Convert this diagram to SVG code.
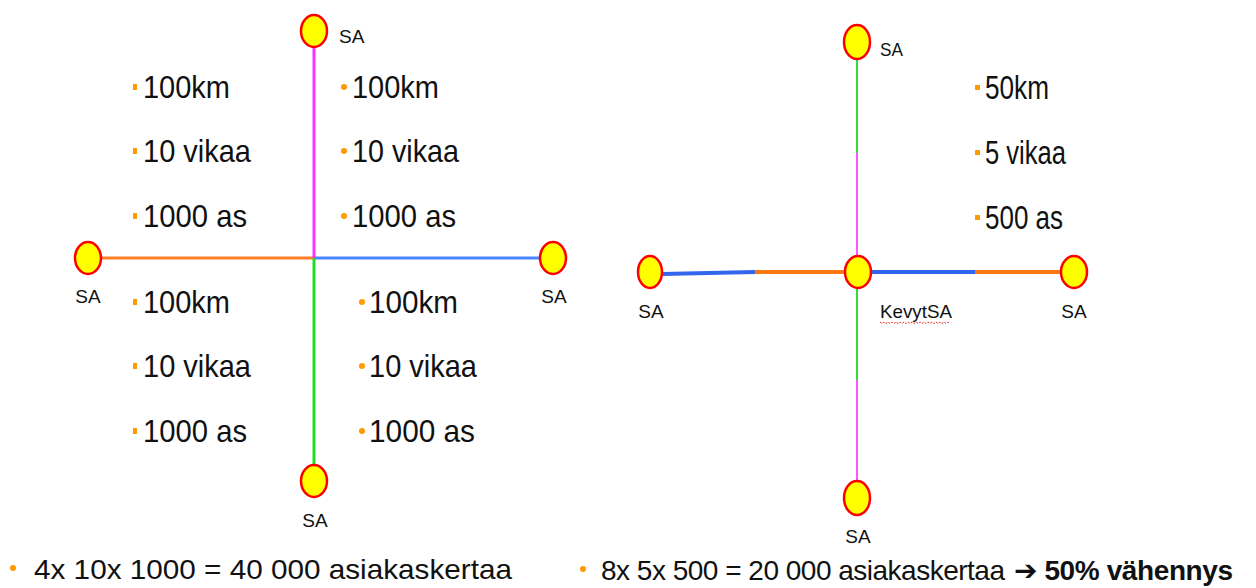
<svg xmlns="http://www.w3.org/2000/svg" width="1256" height="588" viewBox="0 0 1256 588">
<style>
.node{fill:#ffff00;stroke:#ff0000;stroke-width:2.5}
.lbl{font-family:"Liberation Sans",Arial,sans-serif;font-size:19px;fill:#111}
.big{font-family:"Liberation Sans",Arial,sans-serif;font-size:32px;fill:#111}
.nar{font-family:"Liberation Sans",Arial,sans-serif;font-size:33px;fill:#111}
.foot{font-family:"Liberation Sans","DejaVu Sans",Arial,sans-serif;font-size:28px;fill:#111}
.b{fill:#ff9900}
</style>
<rect width="1256" height="588" fill="#ffffff"/>
<g id="connectors" fill="none">
  <line x1="101" y1="258" x2="314" y2="258" stroke="#ff7f27" stroke-width="3"/>
  <line x1="314" y1="258" x2="540" y2="258" stroke="#4a86ff" stroke-width="3"/>
  <line x1="314" y1="47" x2="314" y2="258" stroke="#ff33ff" stroke-width="3"/>
  <line x1="314" y1="258" x2="314" y2="465" stroke="#22dd22" stroke-width="3"/>
  <line x1="662" y1="274" x2="755" y2="272" stroke="#3366ee" stroke-width="4"/>
  <line x1="755" y1="272" x2="845" y2="272" stroke="#ff7711" stroke-width="4"/>
  <line x1="870" y1="272" x2="975" y2="272" stroke="#3366ee" stroke-width="4"/>
  <line x1="975" y1="272" x2="1061" y2="272" stroke="#ff7711" stroke-width="4"/>
  <line x1="857" y1="59" x2="857" y2="153" stroke="#33dd33" stroke-width="2"/>
  <line x1="857" y1="153" x2="857" y2="256" stroke="#ff55ff" stroke-width="2"/>
  <line x1="857" y1="288" x2="857" y2="380" stroke="#33dd33" stroke-width="2"/>
  <line x1="857" y1="380" x2="857" y2="481" stroke="#ff55ff" stroke-width="2"/>
</g>
<g id="sa-top-left">
  <ellipse class="node" cx="314" cy="31" rx="13" ry="16"/>
  <text class="lbl" x="339" y="43">SA</text>
</g>
<g id="sa-left-left">
  <ellipse class="node" cx="88" cy="258" rx="13" ry="16"/>
  <text class="lbl" x="88" y="303" text-anchor="middle">SA</text>
</g>
<g id="sa-right-left">
  <ellipse class="node" cx="553" cy="258" rx="13" ry="16"/>
  <text class="lbl" x="554" y="303" text-anchor="middle">SA</text>
</g>
<g id="sa-bottom-left">
  <ellipse class="node" cx="314" cy="481" rx="13" ry="16"/>
  <text class="lbl" x="315" y="527" text-anchor="middle">SA</text>
</g>
<g id="sa-top-right">
  <ellipse class="node" cx="857" cy="42" rx="13" ry="17"/>
  <text class="lbl" x="880" y="56" textLength="23" lengthAdjust="spacingAndGlyphs">SA</text>
</g>
<g id="sa-left-right">
  <ellipse class="node" cx="650" cy="272" rx="12" ry="16"/>
  <text class="lbl" x="651" y="318" text-anchor="middle">SA</text>
</g>
<g id="kevytsa">
  <ellipse class="node" cx="858" cy="272" rx="13" ry="16"/>
  <text class="lbl" x="880" y="318" textLength="72" lengthAdjust="spacingAndGlyphs">KevytSA</text>
  <path d="M880 322 l2 1.5 l2 -1.5 l2 1.5 l2 -1.5 l2 1.5 l2 -1.5 l2 1.5 l2 -1.5 l2 1.5 l2 -1.5 l2 1.5 l2 -1.5 l2 1.5 l2 -1.5 l2 1.5 l2 -1.5 l2 1.5 l2 -1.5 l2 1.5 l2 -1.5 l2 1.5 l2 -1.5 l2 1.5 l2 -1.5 l2 1.5 l2 -1.5 l2 1.5 l2 -1.5 l2 1.5 l2 -1.5 l2 1.5 l2 -1.5 l2 1.5 l2 -1.5 l2 1.5" fill="none" stroke="#ee2222" stroke-width="1" stroke-dasharray="2 1.5"/>
</g>
<g id="sa-right-right">
  <ellipse class="node" cx="1074" cy="272" rx="13" ry="16"/>
  <text class="lbl" x="1074" y="318" text-anchor="middle">SA</text>
</g>
<g id="sa-bottom-right">
  <ellipse class="node" cx="857" cy="498" rx="13" ry="17"/>
  <text class="lbl" x="858" y="543" text-anchor="middle">SA</text>
</g>
<g id="stats-upper-left">
  <rect class="b" x="133" y="84" width="4" height="6"/>
  <rect class="b" x="133" y="148" width="4" height="6"/>
  <rect class="b" x="133" y="213" width="4" height="6"/>
  <text class="big" x="143" y="98" textLength="87" lengthAdjust="spacingAndGlyphs">100km</text>
  <text class="big" x="143" y="162" textLength="108" lengthAdjust="spacingAndGlyphs">10 vikaa</text>
  <text class="big" x="143" y="227" textLength="104" lengthAdjust="spacingAndGlyphs">1000 as</text>
</g>
<g id="stats-upper-right">
  <circle class="b" cx="344" cy="87" r="3"/>
  <circle class="b" cx="344" cy="151" r="3"/>
  <circle class="b" cx="344" cy="216" r="3"/>
  <text class="big" x="352" y="98" textLength="87" lengthAdjust="spacingAndGlyphs">100km</text>
  <text class="big" x="352" y="162" textLength="107" lengthAdjust="spacingAndGlyphs">10 vikaa</text>
  <text class="big" x="352" y="227" textLength="104" lengthAdjust="spacingAndGlyphs">1000 as</text>
</g>
<g id="stats-lower-left">
  <rect class="b" x="133" y="299" width="4" height="6"/>
  <rect class="b" x="133" y="363" width="4" height="6"/>
  <rect class="b" x="133" y="428" width="4" height="6"/>
  <text class="big" x="143" y="313" textLength="87" lengthAdjust="spacingAndGlyphs">100km</text>
  <text class="big" x="143" y="377" textLength="108" lengthAdjust="spacingAndGlyphs">10 vikaa</text>
  <text class="big" x="143" y="442" textLength="104" lengthAdjust="spacingAndGlyphs">1000 as</text>
</g>
<g id="stats-lower-right">
  <circle class="b" cx="362" cy="302" r="3"/>
  <circle class="b" cx="362" cy="366" r="3"/>
  <circle class="b" cx="362" cy="431" r="3"/>
  <text class="big" x="369" y="313" textLength="89" lengthAdjust="spacingAndGlyphs">100km</text>
  <text class="big" x="369" y="377" textLength="108" lengthAdjust="spacingAndGlyphs">10 vikaa</text>
  <text class="big" x="369" y="442" textLength="106" lengthAdjust="spacingAndGlyphs">1000 as</text>
</g>
<g id="stats-right">
  <rect class="b" x="975" y="85" width="5" height="5"/>
  <rect class="b" x="975" y="150" width="5" height="5"/>
  <rect class="b" x="975" y="215" width="5" height="5"/>
  <text class="nar" x="985" y="99" textLength="64" lengthAdjust="spacingAndGlyphs">50km</text>
  <text class="nar" x="985" y="164" textLength="81" lengthAdjust="spacingAndGlyphs">5 vikaa</text>
  <text class="nar" x="985" y="229" textLength="78" lengthAdjust="spacingAndGlyphs">500 as</text>
</g>
<g id="summary-left">
  <circle class="b" cx="13" cy="568" r="3"/>
  <text class="foot" x="34" y="579" textLength="478" lengthAdjust="spacingAndGlyphs">4x 10x 1000 = 40 000 asiakaskertaa</text>
</g>
<g id="summary-right">
  <circle class="b" cx="583" cy="569" r="3"/>
  <text class="foot" x="601" y="580"><tspan letter-spacing="-0.5">8x 5x 500 = 20 000 asiakaskertaa</tspan><tspan x="1014" font-weight="bold" letter-spacing="-0.4">➔ 50% vähennys</tspan></text>
</g>
</svg>
